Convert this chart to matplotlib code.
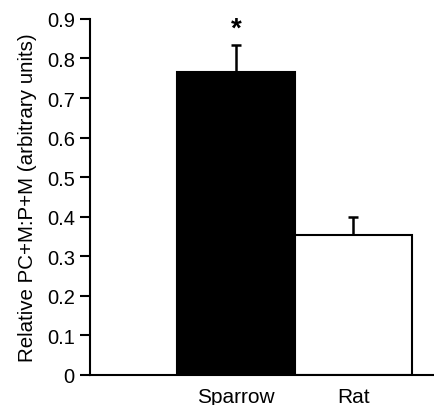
#!/usr/bin/env python3
# plot.py - relative PC+M:P+M bar chart, sparrow vs rat

import matplotlib
matplotlib.use("Agg")
import matplotlib.pyplot as plt

# values
species = ["Sparrow", "Rat"]
means = [0.765, 0.354]
errors = [0.07, 0.044]
colors = ["black", "white"]
yticks = [0, 0.1, 0.2, 0.3, 0.4, 0.5, 0.6, 0.7, 0.8, 0.9]
ytick_labels = ["0", "0.1", "0.2", "0.3", "0.4", "0.5", "0.6", "0.7", "0.8", "0.9"]

plt.rcParams["font.family"] = ["Liberation Sans", "DejaVu Sans"]

fig = plt.figure(figsize=(4.35, 4.06), dpi=100)
ax = fig.add_axes([0.207, 0.074, 0.793, 0.877])

x = list(range(len(species)))
ax.bar(x, means, width=1.0, color=colors, edgecolor="black", linewidth=1.5, zorder=2)
ax.errorbar(x, means, yerr=[[0, 0], errors], fmt="none", ecolor="black",
            elinewidth=1.8, capsize=3.5, capthick=1.8, zorder=1)

# significance star above sparrow
ax.text(0, means[0] + errors[0] + 0.008, "*", ha="center", va="bottom",
        fontsize=20, fontweight="bold")

ax.set_xlim(-1.243, 1.694)
ax.set_ylim(0, 0.9)
ax.set_yticks(yticks)
ax.set_yticklabels(ytick_labels)
ax.set_xticks(x)
ax.set_xticklabels(species)
ax.tick_params(axis="y", direction="out", length=7, width=1.5, labelsize=14.5, pad=4)
ax.tick_params(axis="x", length=0, labelsize=15, pad=9)
ax.set_ylabel("Relative PC+M:P+M (arbitrary units)", fontsize=14.8, labelpad=7)

for side in ["top", "right"]:
    ax.spines[side].set_visible(False)
for side in ["left", "bottom"]:
    ax.spines[side].set_linewidth(1.5)

fig.savefig("out.png", dpi=100)
